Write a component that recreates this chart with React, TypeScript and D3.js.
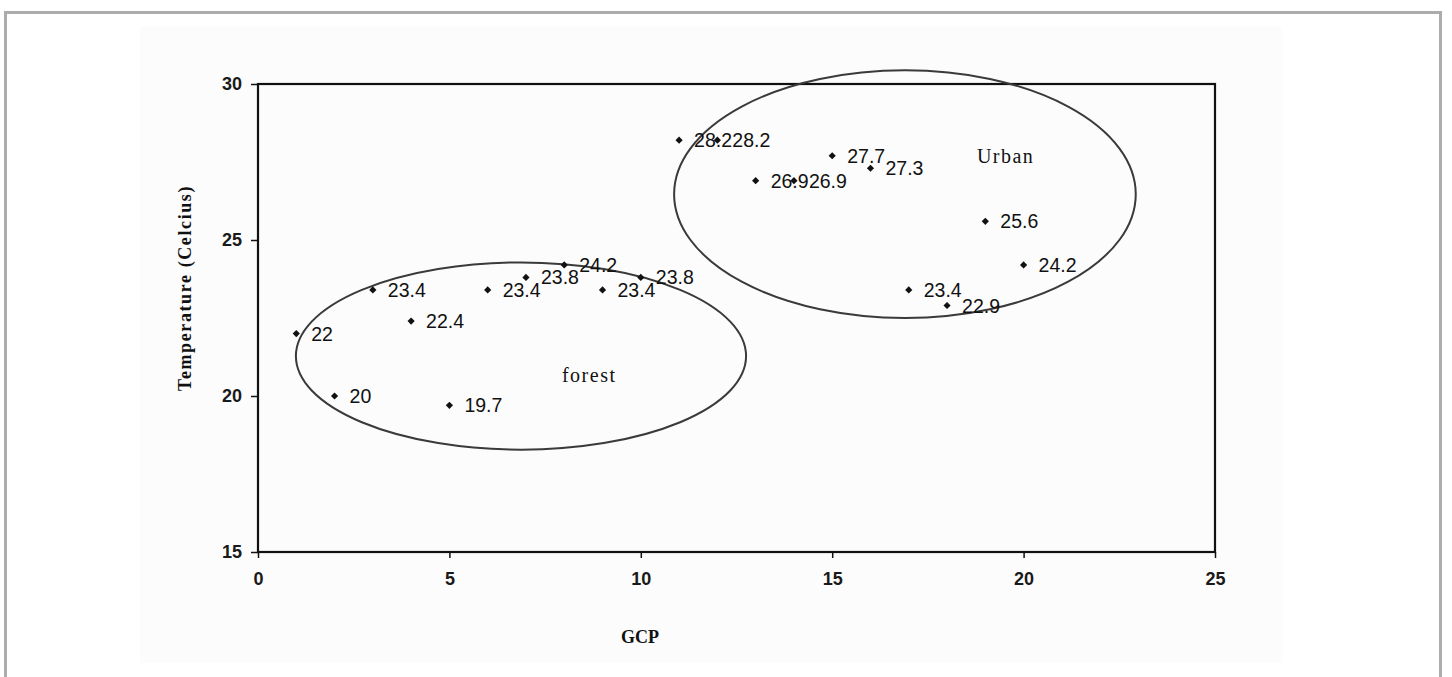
import * as d3 from "d3";
import { useEffect, useRef } from "react";

const gcp = [1, 2, 3, 4, 5, 6, 7, 8, 9, 10, 11, 12, 13, 14, 15, 16, 17, 18, 19, 20];
const temperature = [
  22, 20, 23.4, 22.4, 19.7, 23.4, 23.8, 24.2, 23.4, 23.8,
  28.2, 28.2, 26.9, 26.9, 27.7, 27.3, 23.4, 22.9, 25.6, 24.2,
];
const xTicks = [0, 5, 10, 15, 20, 25];
const yTicks = [15, 20, 25, 30];

// group outlines, in data units
const groupNames = ["forest", "Urban"];
const groupCenters = [
  [6.87, 21.28],
  [16.9, 26.47],
];
const groupRadii = [
  [5.88, 3.0],
  [6.03, 3.97],
];
const groupLabelAt = [
  [7.94, 20.45],
  [18.78, 27.47],
];

function App() {
  const ref = useRef<SVGSVGElement>(null);
  const width = 1452;
  const height = 677;
  const marginLeft = 258;
  const marginRight = 237;
  const marginTop = 84;
  const marginBottom = 125;

  useEffect(() => {
    const svg = d3.select(ref.current);
    svg.selectAll("*").remove();

    const x = d3.scaleLinear().domain([0, 25]).range([marginLeft, width - marginRight]);
    const y = d3.scaleLinear().domain([15, 30]).range([height - marginBottom, marginTop]);

    // outer frame and panel
    svg
      .append("rect")
      .attr("x", 5.5)
      .attr("y", 12.5)
      .attr("width", 1435)
      .attr("height", 700)
      .attr("fill", "#fff")
      .attr("stroke", "#acacac")
      .attr("stroke-width", 3);
    svg
      .append("rect")
      .attr("x", 140)
      .attr("y", 26)
      .attr("width", 1142)
      .attr("height", 637)
      .attr("fill", "#fcfcfc");

    const font = "Arial, 'Liberation Sans', sans-serif";
    const serif = "'Liberation Serif', 'Times New Roman', serif";

    svg
      .append("g")
      .attr("transform", `translate(0,${height - marginBottom})`)
      .call(d3.axisBottom(x).tickValues(xTicks).tickSize(6).tickPadding(14))
      .call((g) => g.select(".domain").remove())
      .call((g) =>
        g
          .selectAll("text")
          .attr("font-family", font)
          .attr("font-size", 18)
          .attr("font-weight", 600)
          .attr("fill", "#1a1a1a")
      )
      .call((g) => g.selectAll("line").attr("stroke", "#111").attr("stroke-width", 1.5));

    svg
      .append("g")
      .attr("transform", `translate(${marginLeft},0)`)
      .call(d3.axisLeft(y).tickValues(yTicks).tickSize(7).tickPadding(9))
      .call((g) => g.select(".domain").remove())
      .call((g) =>
        g
          .selectAll("text")
          .attr("font-family", font)
          .attr("font-size", 18)
          .attr("font-weight", 600)
          .attr("fill", "#1a1a1a")
      )
      .call((g) => g.selectAll("line").attr("stroke", "#111").attr("stroke-width", 1.5));

    svg
      .append("rect")
      .attr("x", x(0))
      .attr("y", y(30))
      .attr("width", x(25) - x(0))
      .attr("height", y(15) - y(30))
      .attr("fill", "none")
      .attr("stroke", "#111")
      .attr("stroke-width", 2.2);

    // group outlines
    svg
      .append("g")
      .selectAll("ellipse")
      .data(groupNames)
      .join("ellipse")
      .attr("cx", (d, i) => x(groupCenters[i][0]))
      .attr("cy", (d, i) => y(groupCenters[i][1]))
      .attr("rx", (d, i) => x(groupRadii[i][0]) - x(0))
      .attr("ry", (d, i) => y(15) - y(15 + groupRadii[i][1]))
      .attr("fill", "none")
      .attr("stroke", "#3a3a3a")
      .attr("stroke-width", 2);

    svg
      .append("g")
      .selectAll("text")
      .data(groupNames)
      .join("text")
      .attr("x", (d, i) => x(groupLabelAt[i][0]))
      .attr("y", (d, i) => y(groupLabelAt[i][1]))
      .attr("font-family", serif)
      .attr("font-size", 20)
      .attr("letter-spacing", 1.5)
      .attr("fill", "#111")
      .text((d) => d);

    const points = gcp.map((g, i) => ({ g, t: temperature[i] }));

    svg
      .append("g")
      .selectAll("path")
      .data(points)
      .join("path")
      .attr("transform", (d) => `translate(${x(d.g)},${y(d.t)}) rotate(45)`)
      .attr("d", d3.symbol(d3.symbolSquare, 26)())
      .attr("fill", "#111");

    svg
      .append("g")
      .selectAll("text")
      .data(points)
      .join("text")
      .attr("x", (d) => x(d.g) + 15)
      .attr("y", (d) => y(d.t) + 7)
      .attr("font-family", font)
      .attr("font-size", 19.5)
      .attr("fill", "#111")
      .text((d) => String(d.t));

    svg
      .append("text")
      .attr("x", 640)
      .attr("y", 643)
      .attr("text-anchor", "middle")
      .attr("font-family", serif)
      .attr("font-size", 18)
      .attr("font-weight", 600)
      .attr("fill", "#111")
      .text("GCP");

    svg
      .append("text")
      .attr("transform", `translate(191,${(y(15) + y(30)) / 2 - 30}) rotate(-90)`)
      .attr("text-anchor", "middle")
      .attr("font-family", serif)
      .attr("font-size", 18)
      .attr("font-weight", 600)
      .attr("letter-spacing", 1.6)
      .attr("fill", "#111")
      .text("Temperature (Celcius)");
  }, []);

  return (
    <svg
      ref={ref}
      width={width}
      height={height}
      style={{ position: "absolute", left: 0, top: 0, display: "block" }}
    />
  );
}

export default App;
